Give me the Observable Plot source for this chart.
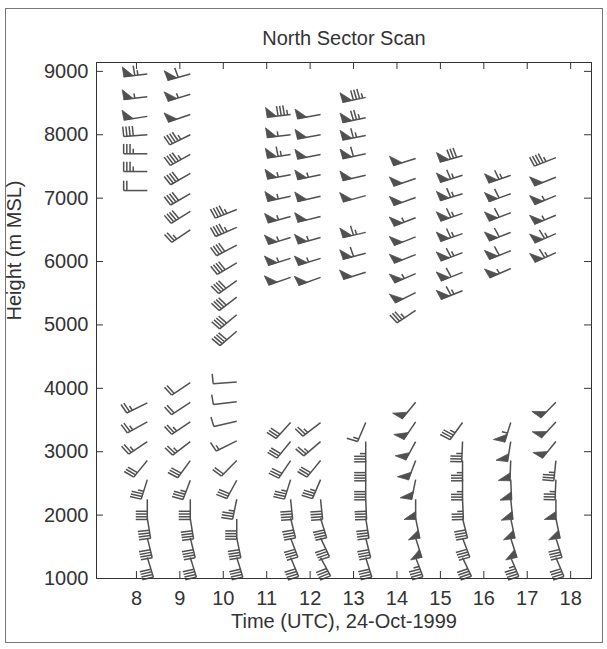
<!DOCTYPE html>
<html><head><meta charset="utf-8">
<script src="https://cdn.jsdelivr.net/npm/d3@7"></script>
<script src="https://cdn.jsdelivr.net/npm/@observablehq/plot@0.6"></script>
<style>
body{margin:0;background:#fff;}
#wrap{position:relative;width:607px;height:649px;}
#wrap svg{position:absolute;left:0;top:0;}
#border{position:absolute;left:5px;top:8px;width:598px;height:635px;border:1px solid #777;box-sizing:border-box;}
</style></head><body><div id="wrap"><div id="border"></div></div>
<script>
// ---- data ----
const title = "North Sector Scan";
const xLabel = "Time (UTC), 24-Oct-1999";
const yLabel = "Height (m MSL)";
const xTicks = [8, 9, 10, 11, 12, 13, 14, 15, 16, 17, 18];
const yTicks = [1000, 2000, 3000, 4000, 5000, 6000, 7000, 8000, 9000];
const scanTimes = [8.25, 9.24, 10.31, 11.55, 12.24, 13.28, 14.43, 15.51, 16.62, 17.66];
// each row: [height (m), direction (deg), speed (kt)]
const col08 = [[8960,262,65],[8600,262,55],[8290,260,50],[8000,265,40],[7700,270,35],[7420,270,35],[7120,270,20],
  [3770,240,25],[3470,237,25],[3160,232,25],[2860,215,30],[2560,195,35],[2250,180,40],[1950,172,40],[1640,168,40],[1330,165,40]];
const col09 = [[8960,252,60],[8640,250,55],[8320,248,50],[8000,240,45],[7690,237,45],[7390,236,40],[7070,236,40],[6790,234,40],[6500,232,25],
  [4090,232,20],[3780,232,20],[3470,232,25],[3160,228,25],[2860,212,30],[2550,198,35],[2250,180,40],[1940,172,40],[1640,168,40],[1330,165,40]];
const col10 = [[6820,245,45],[6540,243,45],[6260,238,40],[5980,235,40],[5700,230,40],[5440,228,40],[5160,226,40],[4900,225,40],
  [4100,265,10],[3790,262,10],[3480,255,10],[3170,240,15],[2860,220,20],[2550,205,30],[2250,190,35],[1940,180,40],[1640,170,40],[1330,165,40]];
const col11 = [[8320,262,85],[8000,262,55],[7690,260,65],[7370,258,55],[7030,256,55],[6710,252,55],[6380,250,55],[6050,250,55],[5750,248,50],
  [3460,218,30],[3160,215,30],[2860,210,30],[2560,195,35],[2250,175,40],[1950,168,40],[1640,162,40],[1330,160,40]];
const col12 = [[8320,258,50],[8000,258,50],[7690,257,50],[7370,256,55],[7030,255,50],[6710,254,50],[6380,252,55],[6050,250,55],[5750,247,50],
  [3460,228,25],[3160,225,25],[2860,215,30],[2560,200,35],[2250,175,40],[1950,165,40],[1640,158,40],[1330,155,40]];
const col13 = [[8590,256,85],[8270,256,75],[7990,257,65],[7700,256,60],[7360,255,50],[7040,252,50],[6460,255,65],[6130,253,60],[5830,250,50],
  [3460,200,15],[3160,180,35],[2860,180,40],[2560,180,40],[2250,178,40],[1950,172,40],[1640,168,40],[1330,165,40]];
const col14 = [[7625,250,50],[7310,248,50],[7010,247,50],[6690,246,55],[6390,245,50],[6110,245,50],[5810,243,55],[5510,240,50],[5230,232,35],
  [3780,215,50],[3470,210,50],[3160,205,50],[2860,198,50],[2560,190,50],[2250,180,50],[1950,170,50],[1640,165,50],[1330,162,45]];
const col15 = [[7670,252,80],[7360,250,65],[7070,250,65],[6760,248,65],[6440,248,65],[6140,246,65],[5830,245,60],[5540,245,65],
  [3460,212,35],[3160,182,35],[2860,180,35],[2560,180,35],[2250,178,35],[1950,168,40],[1640,162,40],[1330,158,40]];
const col16 = [[7360,248,65],[7070,247,60],[6770,246,60],[6460,245,60],[6170,245,60],[5890,243,55],
  [3460,195,55],[3160,188,50],[2860,182,50],[2560,178,50],[2250,175,50],[1950,170,50],[1640,165,50],[1330,160,45]];
const col17 = [[7640,245,45],[7330,245,50],[7040,244,55],[6730,244,55],[6440,243,65],[6140,242,65],
  [3780,220,50],[3470,218,50],[3160,215,50],[2860,185,35],[2560,182,35],[2250,180,50],[1950,170,50],[1640,165,40],[1330,160,40]];
const columns = [col08, col09, col10, col11, col12, col13, col14, col15, col16, col17];

// ---- layout ----
const W = 607, H = 649, ML = 96, MR = 16, MT = 62, MB = 71;
const X0 = 7.08, X1 = 18.48, Y0 = 1000, Y1 = 9140;
const kx = (W - ML - MR) / (X1 - X0), ky = (H - MT - MB) / (Y1 - Y0);
const L = 21.5, F = 10.5, S = 2.9, PW = 8.5, SX = 1.1, SY = 0.94;
const ink = "#505050";

const segs = [], tris = [];
let triId = 0;
columns.forEach((rows, ci) => {
  const t = scanTimes[ci];
  rows.forEach(([h, d, s]) => {
    const pt = (ox, oy) => ({x: t + ox * SX / kx, y: h - oy * SY / ky});
    const seg = (ax, ay, bx, by) => { const a = pt(ax, ay), b = pt(bx, by); segs.push({x1: a.x, y1: a.y, x2: b.x, y2: b.y}); };
    const r = d * Math.PI / 180;
    const ux = Math.sin(r), uy = -Math.cos(r);
    const vx = Math.cos(r), vy = Math.sin(r);
    const ex = L * ux, ey = L * uy;
    seg(0, 0, ex, ey);
    const n50 = Math.floor(s / 50);
    const rem = s - 50 * n50;
    const n10 = Math.floor(rem / 10);
    const n5 = (rem - 10 * n10) >= 5 ? 1 : 0;
    let pos = 0;
    for (let i = 0; i < n50; i++) {
      const ax = ex - pos * ux, ay = ey - pos * uy;
      const bx = ax + F * vx, by = ay + F * vy;
      const cx = ex - (pos + PW) * ux, cy = ey - (pos + PW) * uy;
      [[ax, ay], [bx, by], [cx, cy], [ax, ay]].forEach(([qx, qy]) => { const q = pt(qx, qy); tris.push({x: q.x, y: q.y, id: triId}); });
      triId++;
      pos += PW + 1.5;
    }
    for (let i = 0; i < n10; i++) {
      const ax = ex - pos * ux, ay = ey - pos * uy;
      seg(ax, ay, ax + F * vx, ay + F * vy);
      pos += S;
    }
    if (n5) {
      if (n50 + n10 === 0) pos = S;
      const ax = ex - pos * ux, ay = ey - pos * uy;
      seg(ax, ay, ax + F / 2 * vx, ay + F / 2 * vy);
    }
  });
});

const frameW = W - ML - MR, frameH = H - MT - MB;
const axisInk = "#333";
const plot = Plot.plot({
  width: W, height: H,
  marginLeft: ML, marginRight: MR, marginTop: MT, marginBottom: MB,
  x: {domain: [X0, X1], ticks: xTicks, tickSize: 0, tickPadding: 12, label: null, tickFormat: d => String(d)},
  y: {domain: [Y0, Y1], ticks: yTicks, tickSize: 0, tickPadding: 8, label: null, tickFormat: d => String(d)},
  style: {fontFamily: "'Liberation Sans', Arial, Helvetica, sans-serif", fontSize: "20px", color: axisInk, background: "transparent", overflow: "visible"},
  marks: [
    Plot.link(segs, {x1: "x1", y1: "y1", x2: "x2", y2: "y2", stroke: ink, strokeWidth: 1.5}),
    Plot.line(tris, {x: "x", y: "y", z: "id", fill: ink, stroke: ink, strokeWidth: 0.8}),
    Plot.frame({stroke: axisInk, strokeWidth: 1}),
    Plot.tickX(xTicks, {x: d => d, insetTop: frameH - 7, stroke: axisInk}),
    Plot.tickX(xTicks, {x: d => d, insetBottom: frameH - 7, stroke: axisInk}),
    Plot.tickY(yTicks, {y: d => d, insetRight: frameW - 7, stroke: axisInk}),
    Plot.tickY(yTicks, {y: d => d, insetLeft: frameW - 7, stroke: axisInk}),
    Plot.text([title], {text: d => d, frameAnchor: "top", lineAnchor: "middle", dy: -24, fontSize: 20, fill: axisInk}),
    Plot.text([xLabel], {text: d => d, frameAnchor: "bottom", lineAnchor: "middle", dy: 43, fontSize: 20, fill: axisInk}),
    Plot.text([yLabel], {text: d => d, frameAnchor: "left", lineAnchor: "middle", dx: -82, rotate: -90, fontSize: 20, fill: axisInk})
  ]
});
document.getElementById("wrap").appendChild(plot);
</script>
</body></html>
